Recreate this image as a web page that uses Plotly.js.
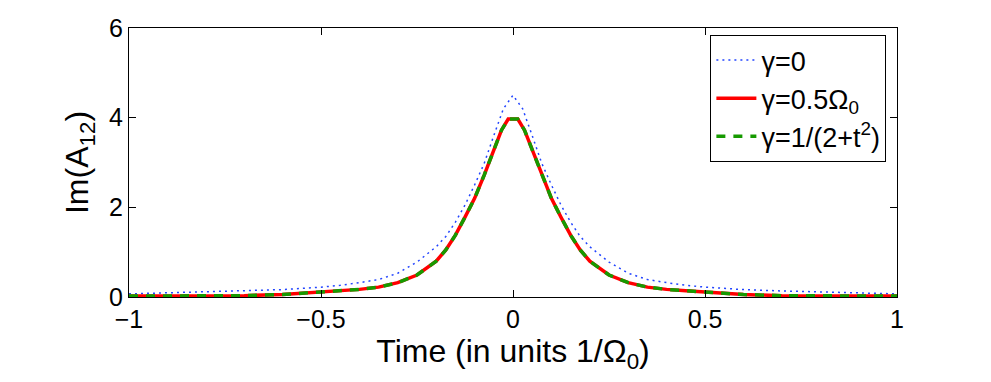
<!DOCTYPE html>
<html>
<head>
<meta charset="utf-8">
<script src="https://cdn.plot.ly/plotly-3.0.1.min.js"></script>
<style>html,body{margin:0;padding:0;background:#fff;}#chart{width:991px;height:382px;}</style>
</head>
<body>
<div id="chart"></div>
<script>
// Time values (units 1/Omega_0)
const tBlue = [-1, -0.9, -0.8, -0.7, -0.6, -0.5, -0.45, -0.4, -0.35, -0.3, -0.25, -0.2, -0.175, -0.15, -0.125, -0.1, -0.075, -0.05, -0.025, 0,
               0.025, 0.05, 0.075, 0.1, 0.125, 0.15, 0.175, 0.2, 0.25, 0.3, 0.35, 0.4, 0.45, 0.5, 0.6, 0.7, 0.8, 0.9, 1];
const gamma0 = [0.07, 0.09, 0.11, 0.135, 0.165, 0.22, 0.26, 0.32, 0.39, 0.53, 0.78, 1.12, 1.35, 1.67, 2.05, 2.5, 2.98, 3.6, 4.2, 4.5,
                4.2, 3.6, 2.98, 2.5, 2.05, 1.67, 1.35, 1.12, 0.78, 0.53, 0.39, 0.32, 0.26, 0.22, 0.165, 0.135, 0.11, 0.09, 0.07];

const tRed = [-1, -0.9, -0.8, -0.7, -0.6, -0.5, -0.45, -0.4, -0.35, -0.3, -0.25, -0.2, -0.175, -0.15, -0.125, -0.1, -0.075, -0.05, -0.03, -0.0125,
              0.0125, 0.03, 0.05, 0.075, 0.1, 0.125, 0.15, 0.175, 0.2, 0.25, 0.3, 0.35, 0.4, 0.45, 0.5, 0.6, 0.7, 0.8, 0.9, 1];
const gammaHalf = [0.02, 0.02, 0.025, 0.03, 0.055, 0.11, 0.14, 0.17, 0.22, 0.32, 0.49, 0.8, 1.05, 1.38, 1.78, 2.2, 2.72, 3.28, 3.72, 3.97,
                   3.97, 3.72, 3.28, 2.72, 2.2, 1.78, 1.38, 1.05, 0.8, 0.49, 0.32, 0.22, 0.17, 0.14, 0.11, 0.055, 0.03, 0.025, 0.02, 0.02];
const gammaT = [0.02, 0.02, 0.025, 0.03, 0.055, 0.11, 0.14, 0.17, 0.22, 0.32, 0.49, 0.8, 1.05, 1.38, 1.78, 2.2, 2.72, 3.28, 3.72, 3.97,
                3.97, 3.72, 3.28, 2.72, 2.2, 1.78, 1.38, 1.05, 0.8, 0.49, 0.32, 0.22, 0.17, 0.14, 0.11, 0.055, 0.03, 0.025, 0.02, 0.02];

const names = ['γ=0', 'γ=0.5Ω<sub>0</sub>', 'γ=1/(2+t<sup>2</sup>)'];
const xTicks = [-1, -0.5, 0, 0.5, 1];
const xTickText = ['\u22121', '\u22120.5', '0', '0.5', '1'];
const yTicks = [0, 2, 4, 6];

const traces = [
  {x: tBlue, y: gamma0, name: names[0], mode: 'lines', line: {color: '#2244ff', width: 1.5, dash: '2px,4px'}},
  {x: tRed, y: gammaHalf, name: names[1], mode: 'lines', line: {color: '#ff0000', width: 3.5}},
  {x: tRed, y: gammaT, name: names[2], mode: 'lines', line: {color: '#169a00', width: 3.5, dash: '9px,8px'}}
];

const font = {family: 'Liberation Sans, Arial, sans-serif', color: '#000'};
const layout = {
  width: 991, height: 382,
  margin: {l: 129, r: 94, t: 28, b: 85},
  paper_bgcolor: '#fff', plot_bgcolor: '#fff',
  font: Object.assign({size: 24}, font),
  showlegend: true,
  legend: {
    x: 0.757, y: 0.974, xanchor: 'left', yanchor: 'top',
    bordercolor: '#000', borderwidth: 1, bgcolor: '#fff',
    font: Object.assign({size: 27}, font),
    itemwidth: 40, tracegroupgap: 0
  },
  xaxis: {
    range: [-1, 1], tickvals: xTicks, ticktext: xTickText,
    ticks: 'inside', ticklen: 7, tickcolor: '#000', showline: true, linecolor: '#000', linewidth: 1,
    mirror: 'allticks', showgrid: false, zeroline: false,
    tickfont: Object.assign({size: 25}, font),
    title: {text: 'Time (in units 1/Ω<sub>0</sub>)', font: Object.assign({size: 32}, font), standoff: 0}
  },
  yaxis: {
    range: [0, 6], tickvals: yTicks,
    ticks: 'inside', ticklen: 7, tickcolor: '#000', showline: true, linecolor: '#000', linewidth: 1,
    mirror: 'allticks', showgrid: false, zeroline: false,
    tickfont: Object.assign({size: 25}, font),
    title: {text: 'Im(A<sub>12</sub>)', font: Object.assign({size: 32}, font), standoff: 10}
  }
};
Plotly.newPlot('chart', traces, layout, {staticPlot: true, displayModeBar: false});
</script>
</body>
</html>
